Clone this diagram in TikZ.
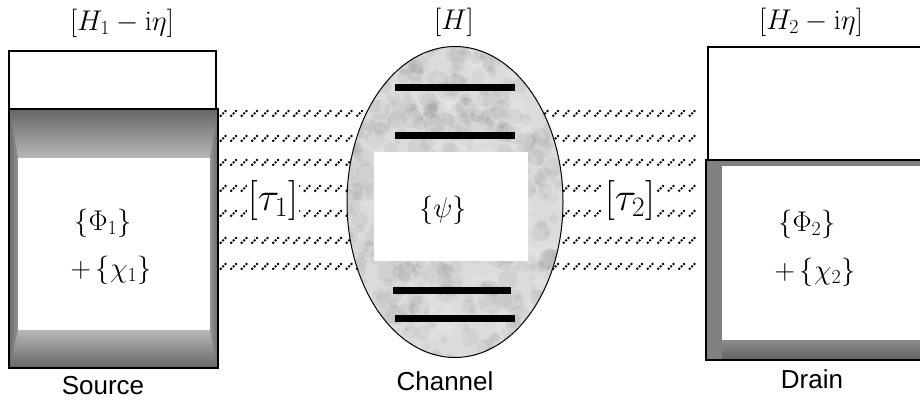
\RequirePackage{fix-cm}
\documentclass[tikz,border=0pt]{standalone}
\usepackage{fontspec}
\newfontfamily\sansf{Liberation Sans}
\usetikzlibrary{calc}
\begin{document}
\begin{tikzpicture}[x=1pt,y=-1pt,
  lbl/.style={font=\fontsize{28.5}{32}\selectfont, inner sep=1pt},
  tlbl/.style={font=\fontsize{40}{44}\selectfont, fill=white, inner sep=0.5pt},
  slbl/.style={font=\sansf\fontsize{26}{30}\selectfont, inner sep=1pt},
  hatch/.style={line width=1.8pt, dash pattern=on 2pt off 1.4pt},
  bar/.style={line width=7pt},
  outline/.style={draw=black, line width=1.2pt}]
\useasboundingbox (0,0) rectangle (920,405);

% ---------- hatched coupling regions ----------
\foreach \y in {113,138,162,188,213,240,266}{
  \foreach \x in {220,230.5,...,400}{\draw[hatch] (\x,\y+3.5) -- ++(7,-7);}
  \foreach \x in {500,510.5,...,698}{\draw[hatch] (\x,\y+3.5) -- ++(7,-7);}
}
\node[tlbl] (tau1) at (273,200) {$[\tau_1]$};
\node[tlbl] (tau2) at (630,200) {$[\tau_2]$};

% ---------- Source ----------
\fill[black!58] (9,109) rectangle (218,368);
\shade[top color=black!60, bottom color=black!28] (9,109) -- (218,109) -- (210,158) -- (18,158) -- cycle;
\shade[top color=black!28, bottom color=black!60] (18,330) -- (210,330) -- (218,368) -- (9,368) -- cycle;
\shade[left color=black!58, right color=black!42] (9,109) -- (18,158) -- (18,330) -- (9,368) -- cycle;
\shade[left color=black!42, right color=black!58] (218,109) -- (210,158) -- (210,330) -- (218,368) -- cycle;
\fill[white] (18,158) rectangle (210,330);
\draw[outline] (9,109) rectangle (218,368);
\draw[outline, fill=white] (9,51) rectangle (216,109);
\node[lbl] (h1) at (122,23) {$[H_1 - \mathrm{i}\eta]$};
\node[lbl] (phi1) at (103,223) {$\{\Phi_1\}$};
\node[lbl] (chi1) at (111,270) {$+\,\{\chi_1\}$};
\node[slbl] (src) at (103,386) {Source};

% ---------- Channel ----------
\begin{scope}
  \clip (455,202) ellipse (108 and 155.5);
  \fill[black!14] (455,202) ellipse (108 and 155.5);
  \pgfmathsetseed{11}
  \foreach \i in {1,...,500}{
    \pgfmathsetmacro\rx{rnd*216+347}
    \pgfmathsetmacro\ry{rnd*311+47}
    \pgfmathsetmacro\rr{rnd*9+2}
    \fill[black, opacity=0.045] (\rx,\ry) circle (\rr);
  }
  \foreach \i in {1,...,120}{
    \pgfmathsetmacro\rx{rnd*216+347}
    \pgfmathsetmacro\ry{rnd*311+47}
    \pgfmathsetmacro\rr{rnd*10+3}
    \fill[white, opacity=0.12] (\rx,\ry) circle (\rr);
  }
\end{scope}
\draw[black, line width=1pt] (455,202) ellipse (108 and 155.5);
\fill[white] (374,152) rectangle (528,261);
\draw[bar] (395,87) -- (515,87);
\draw[bar] (395,135) -- (515,135);
\draw[bar] (393,290) -- (511,290);
\draw[bar] (395,318) -- (515,318);
\node[lbl] (h) at (454,22) {$[H]$};
\node[lbl] (psi) at (443,210) {$\{\psi\}$};
\node[slbl] (chan) at (445,381) {Channel};

% ---------- Drain ----------
\fill[black!50] (706,160) rectangle (925,360);
\shade[top color=black!45, bottom color=black!62] (722,340) rectangle (925,360);
\fill[white] (722,166) rectangle (925,340);
\draw[outline] (706,160) rectangle (925,360);
\draw[outline, fill=white] (708,47) rectangle (925,160);
\node[lbl] (h2) at (811,22) {$[H_2 - \mathrm{i}\eta]$};
\node[lbl] (phi2) at (807,224) {$\{\Phi_2\}$};
\node[lbl] (chi2) at (815,272) {$+\,\{\chi_2\}$};
\node[slbl] (drn) at (812,379) {Drain};
\end{tikzpicture}
\end{document}
